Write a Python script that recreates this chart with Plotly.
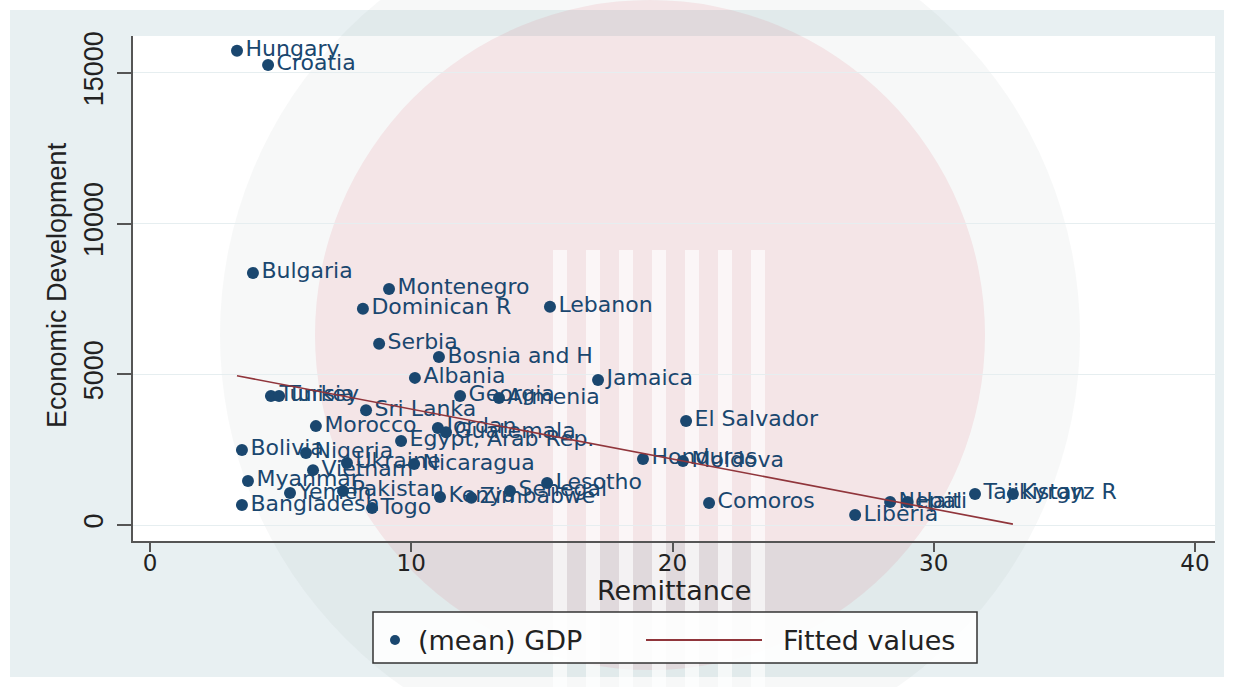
import plotly.graph_objects as go

# Country-level averages: remittance share vs. mean GDP per capita
countries = [
    "Hungary", "Croatia", "Bulgaria", "Montenegro", "Dominican R", "Lebanon",
    "Serbia", "Bosnia and H", "Albania", "Jamaica", "Tunisia", "Turkey",
    "Georgia", "Armenia", "Sri Lanka", "El Salvador", "Morocco", "Jordan",
    "Guatemala", "Egypt, Arab Rep.", "Bolivia", "Nigeria", "Honduras", "Moldova",
    "Ukraine", "Nicaragua", "Vietnam", "Myanmar", "Pakistan", "Yemen",
    "Bangladesh", "Togo", "Kenya", "Zimbabwe", "Senegal", "Lesotho", "Comoros",
    "Liberia", "Nepal", "Haiti", "Tajikistan", "Kyrgyz R",
]
remittance = [
    3.33, 4.52, 3.94, 9.15, 8.15, 15.31,
    8.77, 11.06, 10.14, 17.15, 4.63, 4.94,
    11.87, 13.36, 8.27, 20.52, 6.35, 11.02,
    11.33, 9.61, 3.52, 5.97, 18.87, 20.40,
    7.54, 10.11, 6.24, 3.75, 7.39, 5.36,
    3.52, 8.50, 11.10, 12.30, 13.78, 15.20, 21.40,
    26.99, 28.33, 29.00, 31.58, 33.03,
]
gdp = [
    15730, 15260, 8360, 7830, 7170, 7240,
    6010, 5570, 4880, 4810, 4280, 4280,
    4280, 4210, 3810, 3450, 3280, 3220,
    3080, 2790, 2490, 2390, 2190, 2120,
    2060, 2020, 1820, 1460, 1130, 1060,
    660, 560, 930, 900, 1130, 1390, 730,
    330, 760, 760, 1030, 1030,
]

# Linear fit drawn across the observed remittance range
fit_x = [3.33, 33.03]
fit_y = [4950, 30]

x_ticks = [0, 10, 20, 30, 40]
y_ticks = [0, 5000, 10000, 15000]
y_tick_text = ["0", "5000", "10000", "15000"]

x_title = "Remittance"
y_title = "Economic Development"
legend_labels = ["(mean) GDP", "Fitted values"]

NAVY = "#1a476f"
MAROON = "#90353b"
WIDE = "DejaVu Sans, Verdana, sans-serif"
NARROW = "Liberation Sans Narrow, Arial Narrow, Liberation Sans, sans-serif"

fig = go.Figure()
fig.add_trace(go.Scatter(
    x=remittance, y=gdp, text=countries,
    mode="markers+text", textposition="middle right",
    marker=dict(color=NAVY, size=12),
    textfont=dict(color=NAVY, size=22, family=WIDE),
    name=legend_labels[0], cliponaxis=False, showlegend=False,
))
fig.add_trace(go.Scatter(
    x=fit_x, y=fit_y, mode="lines",
    line=dict(color=MAROON, width=1.6),
    name=legend_labels[1], showlegend=False,
))

# plot region in page pixels
L, R, T, B = 133, 1215, 36, 541
W, H = R - L, B - T
def px(xp):
    return (xp - L) / W
def py(yp):
    return (B - yp) / H

def disc(cx, cy, r, color):
    return dict(type="circle", xref="paper", yref="paper",
                x0=px(cx - r), x1=px(cx + r), y0=py(cy + r), y1=py(cy - r),
                fillcolor=color, line=dict(width=0), layer="below")

shapes = [
    # graph region (light blue-grey) and white plot region
    dict(type="rect", xref="paper", yref="paper", x0=px(10), x1=px(1224),
         y0=py(677), y1=py(10), fillcolor="#e8f0f2", line=dict(width=0), layer="below"),
    dict(type="rect", xref="paper", yref="paper", x0=0, x1=1, y0=0, y1=1,
         fillcolor="white", line=dict(width=0), layer="below"),
    # faint background emblem: grey ring, pink disc, vertical light bands
    disc(650, 335, 430, "rgba(140,150,155,0.07)"),
    disc(650, 335, 335, "rgba(225,95,115,0.12)"),
]
for k in range(7):
    x0 = 553 + 33 * k
    shapes.append(dict(type="rect", xref="paper", yref="paper",
                       x0=px(x0), x1=px(x0 + 14), y0=py(687), y1=py(250),
                       fillcolor="rgba(255,255,255,0.65)", line=dict(width=0),
                       layer="below"))

# legend box and keys
shapes += [
    dict(type="rect", xref="paper", yref="paper", x0=px(373), x1=px(977),
         y0=py(663), y1=py(612), fillcolor="rgba(255,255,255,0.9)",
         line=dict(color="#333", width=1.5)),
    dict(type="circle", xref="paper", yref="paper", x0=px(390), x1=px(400),
         y0=py(645), y1=py(635), fillcolor=NAVY, line=dict(width=0)),
    dict(type="line", xref="paper", yref="paper", x0=px(646), x1=px(762),
         y0=py(640), y1=py(640), line=dict(color=MAROON, width=2)),
]

annotations = [
    dict(text=legend_labels[0], xref="paper", yref="paper", x=px(416), y=py(640),
         xanchor="left", yanchor="middle", showarrow=False,
         font=dict(family=WIDE, size=27, color="#222")),
    dict(text=legend_labels[1], xref="paper", yref="paper", x=px(781), y=py(640),
         xanchor="left", yanchor="middle", showarrow=False,
         font=dict(family=WIDE, size=27, color="#222")),
    dict(text=x_title, xref="paper", yref="paper", x=px(674), y=py(590),
         xanchor="center", yanchor="middle", showarrow=False,
         font=dict(family=WIDE, size=27, color="#222")),
    dict(text=y_title, xref="paper", yref="paper", x=px(57), y=py(285),
         xanchor="center", yanchor="middle", showarrow=False, textangle=-90,
         font=dict(family=NARROW, size=27, color="#222")),
]

fig.update_layout(
    width=1234, height=687,
    margin=dict(l=L, r=1234 - R, t=T, b=687 - B),
    paper_bgcolor="white", plot_bgcolor="rgba(0,0,0,0)",
    font=dict(family=WIDE, size=18, color="#222"),
    shapes=shapes, annotations=annotations,
    showlegend=False,
    xaxis=dict(
        range=[(L - 150) / 26.125, (R - 150) / 26.125],
        tickvals=x_ticks, ticks="outside", ticklen=9, tickwidth=2, tickcolor="#555",
        ticklabelstandoff=-9,
        showline=True, linecolor="#555", linewidth=2, showgrid=False, zeroline=False,
        tickfont=dict(size=23, family=WIDE),
    ),
    yaxis=dict(
        range=[-(B - 525) * 33.17, (525 - T) * 33.17],
        tickvals=y_ticks, ticktext=y_tick_text,
        ticks="outside", ticklen=14, tickwidth=2, tickcolor="#555",
        tickangle=-90, ticklabelstandoff=3,
        showline=True, linecolor="#555", linewidth=2,
        showgrid=True, gridcolor="#e6eef0", gridwidth=1, zeroline=False,
        tickfont=dict(size=27, family=NARROW),
    ),
)

fig.write_html("out.html")
